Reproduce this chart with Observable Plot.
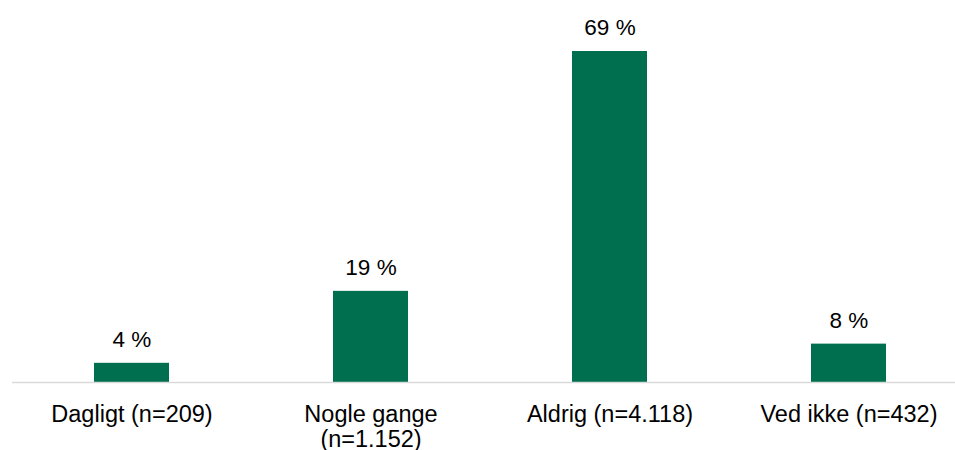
<!DOCTYPE html>
<html>
<head>
<meta charset="utf-8">
<script src="https://cdn.jsdelivr.net/npm/d3@7"></script>
<script src="https://cdn.jsdelivr.net/npm/@observablehq/plot@0.6"></script>
<style>
  html, body { margin: 0; padding: 0; background: #fff; }
  svg { display: block; }
</style>
</head>
<body>
<div id="chart"></div>
<script>
const categories = ["Dagligt (n=209)", "Nogle gange\n(n=1.152)", "Aldrig (n=4.118)", "Ved ikke (n=432)"];
const values = [4, 19, 69, 8];
const valueLabels = ["4 %", "19 %", "69 %", "8 %"];

const data = categories.map((c, i) => ({cat: c, value: values[i], label: valueLabels[i]}));

const chart = Plot.plot({
  width: 955,
  height: 450,
  marginLeft: 12,
  marginRight: 0,
  marginTop: 0,
  marginBottom: 0,
  style: {fontFamily: "'Liberation Sans', Arial, sans-serif", background: "#fff"},
  x: {domain: categories, range: [12, 968], paddingInner: 0.686, paddingOuter: 0.343, axis: null},
  y: {domain: [0, 69], range: [382, 51], axis: null},
  marks: [
    Plot.barY(data, {x: "cat", y: "value", fill: "#006F4F"}),
    Plot.ruleY([0], {stroke: "#d9d9d9", strokeWidth: 1.5}),
    Plot.text(data, {x: "cat", y: "value", text: "label", lineAnchor: "bottom", dy: -16.5, fontSize: 22.5, fill: "#000"}),
    Plot.text(data, {x: "cat", y: 0, text: "cat", lineAnchor: "top", dy: 21.5, fontSize: 23.5, lineHeight: 1.06, fill: "#000"})
  ]
});
document.getElementById("chart").appendChild(chart);
</script>
</body>
</html>
